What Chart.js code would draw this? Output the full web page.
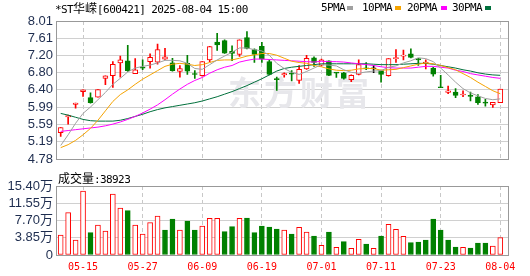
<!DOCTYPE html>
<html>
<head>
<meta charset="utf-8">
<script src="https://cdn.jsdelivr.net/npm/chart.js@4.4.1/dist/chart.umd.min.js"></script>
<style>
    body { margin: 0; background: #fff; }
    #wrap { position: relative; width: 530px; height: 276px; overflow: hidden; }
    #priceBox { position: absolute; left: 0; top: 0; width: 530px; height: 170px; }
    #volBox { position: absolute; left: 0; top: 170px; width: 530px; height: 106px; }
    .txt {
        position: absolute; white-space: nowrap; color: #000;
        font-family: 'DejaVu Sans Mono', monospace; font-size: 11px;
        letter-spacing: -0.6px; line-height: 12px;
    }
    .cjk { font-family: 'Noto Sans CJK SC'; font-size: 12px; letter-spacing: 0; }
    .sq { position: absolute; width: 6px; height: 4px; }
</style>
</head>
<body>
<div id="wrap">
    <div id="priceBox"><canvas id="priceChart" width="530" height="170"></canvas></div>
    <div id="volBox"><canvas id="volChart" width="530" height="106"></canvas></div>

    <div class="txt" style="left:55px;top:2px">*ST<span class="cjk">华嵘</span>[600421] 2025-08-04 15:00</div>

    <div class="txt" style="left:321px;top:2px">5PMA</div>
    <div class="sq" style="left:347px;top:6px;background:#a0a0a0"></div>
    <div class="txt" style="left:362px;top:2px">10PMA</div>
    <div class="sq" style="left:395px;top:6px;background:#f5a300"></div>
    <div class="txt" style="left:407px;top:2px">20PMA</div>
    <div class="sq" style="left:441px;top:6px;background:#ff00ff"></div>
    <div class="txt" style="left:452px;top:2px">30PMA</div>
    <div class="sq" style="left:485px;top:6px;background:#00703c"></div>

    <div class="txt" id="volTitle" style="left:58px;top:172px"></div>
</div>

<script>
const dates = [
    '05-12','05-13','05-14','05-15','05-16','05-19','05-20','05-21','05-22','05-23',
    '05-26','05-27','05-28','05-29','05-30','06-03','06-04','06-05','06-06','06-09',
    '06-10','06-11','06-12','06-13','06-16','06-17','06-18','06-19','06-20','06-23',
    '06-24','06-25','06-26','06-27','06-30','07-01','07-02','07-03','07-04','07-07',
    '07-08','07-09','07-10','07-11','07-14','07-15','07-16','07-17','07-18','07-21',
    '07-22','07-23','07-24','07-25','07-28','07-29','07-30','07-31','08-01','08-04'
];

const open = [
    5.40,5.77,6.06,6.36,6.22,6.23,6.67,6.73,7.03,7.08,
    6.78,6.92,7.06,7.05,7.12,7.03,6.83,7.02,6.77,6.73,
    7.10,7.52,7.55,7.30,7.23,7.62,7.34,7.42,7.06,6.65,
    6.75,6.79,6.62,6.89,7.15,6.98,7.08,6.80,6.80,6.64,
    6.76,6.91,6.89,6.85,6.73,7.13,7.19,7.24,7.13,7.01,
    6.91,6.46,6.34,6.35,6.28,6.27,6.24,6.10,6.05,6.10
];
const high = [
    5.52,5.81,6.09,6.40,6.33,6.41,6.73,7.06,7.19,7.44,
    7.13,7.10,7.24,7.47,7.37,7.14,6.97,7.21,6.85,7.06,
    7.42,7.72,7.57,7.43,7.57,7.76,7.36,7.51,7.10,6.70,
    6.80,6.85,6.97,7.21,7.17,7.12,7.08,6.81,6.81,6.75,
    7.10,7.04,6.97,6.86,7.13,7.34,7.33,7.36,7.14,7.10,
    6.93,6.74,6.49,6.43,6.38,6.35,6.29,6.18,6.11,6.42
];
const low = [
    5.31,5.60,5.97,6.25,6.09,6.23,6.52,6.46,6.70,6.83,
    6.78,6.87,6.91,7.00,7.11,6.84,6.70,6.76,6.67,6.72,
    7.06,7.32,7.25,7.08,7.18,7.36,7.04,7.04,6.75,6.39,
    6.70,6.61,6.55,6.88,6.95,6.96,6.73,6.69,6.65,6.59,
    6.75,6.87,6.80,6.58,6.72,7.04,7.10,7.15,6.97,6.89,
    6.72,6.45,6.31,6.22,6.24,6.14,6.06,6.02,5.99,6.10
];
const close = [
    5.52,5.80,6.09,6.40,6.10,6.41,6.73,7.00,7.10,6.85,
    6.87,6.91,7.16,7.34,7.17,6.85,6.90,6.84,6.76,7.06,
    7.41,7.45,7.26,7.25,7.57,7.37,7.23,7.12,6.76,6.64,
    6.78,6.77,6.88,7.14,7.04,7.10,6.74,6.79,6.67,6.74,
    6.99,6.89,6.89,6.76,7.13,7.15,7.21,7.16,7.10,7.05,
    6.77,6.45,6.38,6.27,6.30,6.25,6.10,6.09,6.11,6.42
];
const volume = [
    44600,94400,33500,142900,49800,67000,53600,136200,104900,98900,
    67000,46900,72100,87100,55800,80300,55800,75900,55800,64700,
    81800,81800,52100,63200,81800,82600,49800,64700,62500,58000,
    55800,46900,61800,51300,42400,21600,51300,17100,29700,14900,
    35000,24600,14900,42400,68500,57300,41700,27500,29000,33500,
    80400,55800,33500,17900,17100,15600,26800,26800,20100,38923
];

const ma5 = [
    5.10,5.35,5.62,5.85,6.00,6.17,6.34,6.53,6.67,6.82,
    6.91,6.95,6.98,7.03,7.09,7.09,7.08,7.02,6.90,6.88,
    6.99,7.10,7.19,7.28,7.38,7.38,7.34,7.31,7.21,7.02,
    6.90,6.81,6.76,6.83,6.91,6.99,6.98,6.96,6.87,6.81,
    6.79,6.82,6.84,6.85,6.93,6.96,7.03,7.08,7.15,7.13,
    7.06,6.91,6.75,6.58,6.43,6.33,6.26,6.20,6.17,6.19
];
const ma10 = [
    5.05,5.12,5.22,5.35,5.50,5.69,5.91,6.13,6.29,6.40,
    6.53,6.65,6.75,6.85,6.95,7.00,7.02,7.00,6.97,6.99,
    7.04,7.09,7.10,7.10,7.14,7.19,7.22,7.25,7.25,7.21,
    7.14,7.07,7.04,7.02,6.97,6.94,6.89,6.86,6.85,6.86,
    6.89,6.90,6.90,6.86,6.87,6.88,6.92,6.96,7.00,7.03,
    7.01,6.97,6.92,6.87,6.78,6.69,6.58,6.48,6.38,6.31
];
const ma20 = [
    5.43,5.45,5.47,5.49,5.51,5.53,5.56,5.60,5.65,5.71,
    5.78,5.86,5.95,6.05,6.17,6.30,6.42,6.53,6.62,6.69,
    6.79,6.87,6.93,6.97,7.05,7.09,7.12,7.12,7.11,7.10,
    7.09,7.08,7.07,7.06,7.05,7.07,7.06,7.06,7.05,7.03,
    7.01,6.99,6.97,6.94,6.92,6.91,6.91,6.91,6.93,6.95,
    6.95,6.93,6.91,6.86,6.83,6.78,6.75,6.72,6.69,6.67
];
const ma30 = [
    5.85,5.81,5.76,5.71,5.68,5.67,5.67,5.67,5.69,5.73,
    5.78,5.83,5.89,5.94,5.98,6.01,6.04,6.07,6.10,6.14,
    6.19,6.24,6.30,6.36,6.43,6.50,6.58,6.66,6.75,6.84,
    6.90,6.93,6.95,6.97,6.99,7.01,7.01,7.01,7.01,7.01,
    7.01,7.01,7.00,6.99,6.99,6.99,7.00,7.01,7.02,7.02,
    7.00,6.97,6.94,6.91,6.87,6.84,6.80,6.77,6.75,6.74
];

const priceTicks = [4.78, 5.19, 5.59, 5.99, 6.40, 6.80, 7.20, 7.61, 8.01];
const volTicks = [0, 38500, 77000, 115500, 154000];
const labelIdx = [3, 11, 19, 27, 35, 43, 51, 59];

const UP = '#ff0000', DOWN = '#008000', FLAT = '#000000';
const idx = dates.map((d, i) => i);

function candleColor(i) {
    if (close[i] > open[i]) return UP;
    if (close[i] < open[i]) return DOWN;
    return FLAT;
}
function volColor(i) {
    return (i === 0 || close[i] >= close[i - 1]) ? UP : DOWN;
}

document.getElementById('volTitle').innerHTML =
    '<span class="cjk">成交量</span>:' + volume[volume.length - 1];

const axisFont = { family: "'Liberation Sans', 'Noto Sans CJK SC'", size: 13 };
const axisColor = '#1e2d4f';

function xAxis(showLabels) {
    return {
        type: 'linear',
        min: -0.63,
        max: 60.17,
        offset: false,
        afterBuildTicks: s => { s.ticks = labelIdx.map(v => ({ value: v })); },
        grid: { color: '#c8c8c8', drawTicks: false, offset: false },
        border: { display: false, dash: [4, 3] },
        ticks: {
            display: showLabels,
            color: '#ff0000',
            font: { family: 'DejaVu Sans Mono', size: 10 },
            padding: 6,
            maxRotation: 0,
            autoSkip: false,
            callback: v => dates[v]
        },
        afterFit: s => { s.height = showLabels ? 21 : 0; }
    };
}

const frame = {
    id: 'frame',
    afterDraw(chart) {
        const a = chart.chartArea, ctx = chart.ctx;
        ctx.save();
        ctx.strokeStyle = '#999999';
        ctx.lineWidth = 1;
        ctx.strokeRect(Math.round(a.left) + 0.5, Math.round(a.top) + 0.5,
            Math.round(a.right - a.left) - 1, Math.round(a.bottom - a.top));
        ctx.restore();
    }
};

const watermark = {
    id: 'watermark',
    beforeDatasetsDraw(chart) {
        const ctx = chart.ctx;
        ctx.save();
        ctx.fillStyle = '#e7e7eb';
        ctx.font = "bold 33px 'Noto Sans CJK SC'";
        ctx.letterSpacing = '3px';
        ctx.textBaseline = 'middle';
        ctx.fillText('东方财富', 228, 92);
        ctx.restore();
    }
};

function maLine(values, color) {
    return {
        type: 'line',
        data: idx.map(i => ({ x: i, y: values[i] })),
        borderColor: color,
        borderWidth: 1,
        pointRadius: 0,
        tension: 0,
        order: 0
    };
}

new Chart(document.getElementById('priceChart'), {
    type: 'bar',
    data: {
        datasets: [
            {
                data: idx.map(i => ({ x: i, y: [low[i], high[i]] })),
                backgroundColor: idx.map(candleColor),
                borderWidth: 0,
                barThickness: 1,
                grouped: false,
                order: 3
            },
            {
                data: idx.map(i => ({ x: i, y: [open[i], close[i]] })),
                backgroundColor: idx.map(i => close[i] > open[i] ? '#ffffff' : candleColor(i)),
                borderColor: idx.map(candleColor),
                borderWidth: 1,
                borderSkipped: false,
                barThickness: 5,
                minBarLength: 1,
                grouped: false,
                order: 2
            },
            maLine(ma5, '#a0a0a0'),
            maLine(ma10, '#f5a300'),
            maLine(ma20, '#ff00ff'),
            maLine(ma30, '#00703c')
        ]
    },
    options: {
        responsive: false,
        animation: false,
        events: [],
        layout: { padding: { left: 0, right: 21, top: 21, bottom: 5 } },
        plugins: { legend: { display: false }, tooltip: { enabled: false } },
        scales: {
            x: xAxis(false),
            y: {
                min: 4.78,
                max: 8.01,
                afterBuildTicks: s => { s.ticks = priceTicks.map(v => ({ value: v })); },
                grid: { color: '#d0d0d0', drawTicks: false },
                border: { display: false },
                ticks: {
                    color: axisColor, font: axisFont, padding: 3, autoSkip: false,
                    callback: v => v.toFixed(2)
                },
                afterFit: s => { s.width = 56; }
            }
        }
    },
    plugins: [watermark, frame]
});

new Chart(document.getElementById('volChart'), {
    type: 'bar',
    data: {
        datasets: [{
            data: idx.map(i => ({ x: i, y: volume[i] })),
            backgroundColor: idx.map(i => volColor(i) === UP ? '#ffffff' : DOWN),
            borderColor: idx.map(volColor),
            borderWidth: 1,
            borderSkipped: false,
            barThickness: 5,
            grouped: false
        }]
    },
    options: {
        responsive: false,
        animation: false,
        events: [],
        layout: { padding: { left: 0, right: 21, top: 16, bottom: 0 } },
        plugins: { legend: { display: false }, tooltip: { enabled: false } },
        scales: {
            x: xAxis(true),
            y: {
                min: 0,
                max: 154000,
                afterBuildTicks: s => { s.ticks = volTicks.map(v => ({ value: v })); },
                grid: { color: '#d0d0d0', drawTicks: false },
                border: { display: false },
                ticks: {
                    color: axisColor, font: axisFont, padding: 3, autoSkip: false,
                    callback: v => v === 0 ? '0' : (v / 10000).toFixed(2) + '万'
                },
                afterFit: s => { s.width = 56; }
            }
        }
    },
    plugins: [frame]
});
</script>
</body>
</html>
